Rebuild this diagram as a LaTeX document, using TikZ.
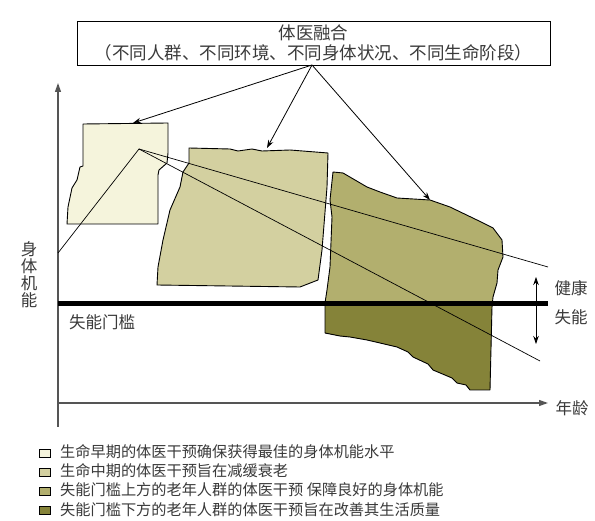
\documentclass[tikz,border=0pt]{standalone}
\usepackage{fontspec}
\setmainfont{Noto Sans CJK SC}
\usetikzlibrary{arrows.meta}
\definecolor{cA}{HTML}{F5F4DC}
\definecolor{cB}{HTML}{D3D0A0}
\definecolor{cC}{HTML}{B2AF6E}
\definecolor{cD}{HTML}{858339}
\definecolor{txt}{HTML}{3A3A3A}
\definecolor{axisc}{HTML}{555555}
\begin{document}
\begin{tikzpicture}[x=1pt,y=-1pt,
  blk/.style={draw=black,line width=0.9pt,line join=round},
  ray/.style={draw=black,line width=0.7pt},
  arr/.style={draw=black,line width=0.8pt,-{Stealth[length=8pt,width=5.5pt]}},
  lbl/.style={text=txt,font=\fontsize{16.5}{18}\selectfont,inner sep=0pt},
  legbox/.style={draw=black,line width=0.8pt,minimum width=11pt,minimum height=8pt,inner sep=0pt},
  legtxt/.style={text=txt,font=\fontsize{15.2}{17}\selectfont,anchor=west,inner sep=0pt}]
\useasboundingbox (0,0) rectangle (595,521);
\fill[white] (0,0) rectangle (595,521);

% axes
\draw[axisc,line width=1.2pt,-{Triangle[length=9pt,width=6pt]}] (58,427) -- (58,83);
\draw[axisc,line width=1.2pt,-{Triangle[length=9pt,width=6pt]}] (58,403) -- (548,403);
\node[lbl] (xl) at (572,408) {年龄};
\node[lbl,align=center,font=\fontsize{16.5}{17}\selectfont] (yl) at (29,275) {身\\体\\机\\能};

% left box
\path[blk,fill=cA] (83,124) -- (168,123) -- (168,153) -- (167,163) -- (159,170) -- (158,175) -- (158,224) -- (67,224) -- (68,207) -- (72,188) -- (77,180) -- (80,167) -- (83,166) -- cycle;
% middle box
\path[blk,fill=cB] (189,148) -- (230,149) -- (238,151) -- (252,149) -- (262,151) -- (290,150) -- (328,153) -- (327,187) -- (322,250) -- (318,280) -- (300,287) -- (157,285) -- (158,267) -- (163,240) -- (170,210) -- (180,187) -- (183,172) -- (189,163) -- cycle;
% right box
\def\rightpoly{(333,172) -- (343,173) -- (367,187) -- (380,192) -- (397,198) -- (430,200) -- (450,207) -- (477,220) -- (493,228) -- (502,240) -- (503,257) -- (498,270) -- (497,283) -- (493,297) -- (492,307) -- (490,390) -- (470,390) -- (466,385) -- (457,383) -- (452,378) -- (433,370) -- (428,364) -- (413,357) -- (408,352) -- (397,347) -- (380,343) -- (367,340) -- (350,337) -- (340,336) -- (325,333) -- (325,303) -- (327,290) -- (330,267) -- (332,217) -- (330,200) -- cycle}
\fill[cC] \rightpoly;
\begin{scope}
\clip (300,304) rectangle (520,400);
\fill[cD] \rightpoly;
\end{scope}
\draw[blk] \rightpoly;

% threshold
\draw[black,line width=5pt] (58,304) -- (548,304);
\node[lbl] (thr) at (102,322) {失能门槛};

% rays
\coordinate (P) at (139,149);
\coordinate (ya) at (58,253);
\coordinate (r1) at (548,267);
\coordinate (r2) at (540,361);
\draw[ray] (ya) -- (P) -- (r1);
\draw[ray] (P) -- (r2);

% health / disability arrow
\coordinate (hu) at (536,277);
\coordinate (hd) at (536,344);
\draw[black,line width=0.8pt,{Stealth[length=8pt,width=5.5pt]}-{Stealth[length=8pt,width=5.5pt]}] (hu) -- (hd);
\node[lbl] (hl) at (571,288) {健康};
\node[lbl] (sl) at (571,317) {失能};

% title box
\node[draw=black,line width=0.9pt,minimum width=473pt,minimum height=44pt,inner sep=0pt,align=center,text=txt,font=\fontsize{17.5}{20}\selectfont] (title) at (313.5,43) {体医融合\\（不同人群、不同环境、不同身体状况、不同生命阶段）};
\coordinate (tb) at (312,65);
\coordinate (t1) at (133,123);
\coordinate (t2) at (267,148);
\coordinate (t3) at (430,200);
\draw[arr] (tb) -- (t1);
\draw[arr] (tb) -- (t2);
\draw[arr] (tb) -- (t3);

% legend
\node[legbox,fill=cA] (b1) at (45,453) {};
\node[legbox,fill=cB] (b2) at (45,472) {};
\node[legbox,fill=cC] (b3) at (45,491) {};
\node[legbox,fill=cD] (b4) at (45,510) {};
\node[legtxt] (l1) at (60,452) {生命早期的体医干预确保获得最佳的身体机能水平};
\node[legtxt] (l2) at (60,471) {生命中期的体医干预旨在减缓衰老};
\node[legtxt] (l3) at (60,490) {失能门槛上方的老年人群的体医干预 保障良好的身体机能};
\node[legtxt] (l4) at (60,510) {失能门槛下方的老年人群的体医干预旨在改善其生活质量};
\end{tikzpicture}
\end{document}
